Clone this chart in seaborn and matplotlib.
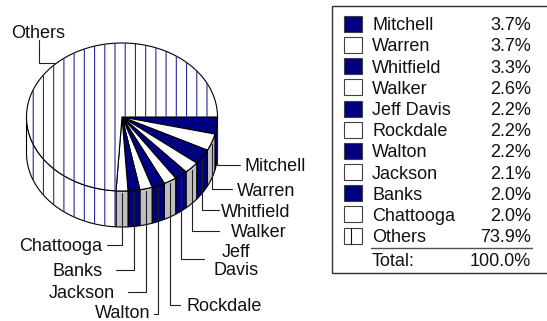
import numpy as np
from matplotlib import pyplot as plt
from matplotlib.patches import Polygon, Rectangle
import seaborn as sns

counties = ["Mitchell", "Warren", "Whitfield", "Walker", "Jeff Davis", "Rockdale",
            "Walton", "Jackson", "Banks", "Chattooga", "Others"]
shares = [3.7, 3.7, 3.3, 2.6, 2.2, 2.2, 2.2, 2.1, 2.0, 2.0, 73.9]
share_labels = ["3.7%", "3.7%", "3.3%", "2.6%", "2.2%", "2.2%", "2.2%", "2.1%", "2.0%", "2.0%", "73.9%"]
total_label = "100.0%"

# label text, elbow y, end x, text x, text y, alignment
callouts = [
    ("Mitchell", 165, 240, 245, 166.5, "left"),
    ("Warren", 189, 232, 237, 191.5, "left"),
    ("Whitfield", 210, 219, 221, 212.5, "left"),
    ("Walker", 231, 219, 231, 232.5, "left"),
    ("Jeff\nDavis", 259, 204, 236, 261.5, "center"),
    ("Rockdale", 305, 180, 187, 306.5, "left"),
    ("Walton", 314, 154, 150, 313.5, "right"),
    ("Jackson", 292, 128, 115, 293.5, "right"),
    ("Banks", 270, 116, 103, 271.5, "right"),
    ("Chattooga", 245, 107, 102, 246.5, "right"),
]

NAVY = "#000080"
GREY = "#c0c0c0"
STRIPE = "#2a2a9c"
FONT = 13

sns.set_style("white")
plt.rcParams["font.family"] = ["Liberation Sans", "DejaVu Sans"]

cx, cy, rx, ry, depth = 122, 117, 95.5, 74, 36

fig = plt.figure(figsize=(5.47, 3.21), dpi=100)
ax = fig.add_axes([0, 0, 1, 1])
ax.set_xlim(0, 547)
ax.set_ylim(321, 0)
ax.axis("off")


def rim(a, b, dy=0):
    t = np.radians(np.linspace(a, b, max(int(abs(b - a)) * 2, 2) + 1))
    return np.column_stack([cx + rx * np.cos(t), cy + dy + ry * np.sin(t)])


def add_stripes(patch):
    # vertical hatch of the Others slice, clipped to its shape
    xs = 115 + 10.22 * np.arange(-9, 10)
    for x in xs:
        line, = ax.plot([x, x], [0, 321], color=STRIPE, lw=0.8, snap=False, zorder=patch.get_zorder() + 0.1)
        line.set_clip_path(patch)


edges = np.concatenate([[0], np.cumsum(shares)]) * 3.6
edges[-1] = 360
for i, name in enumerate(counties):
    a, b = edges[i], edges[i + 1]
    others = name == "Others"
    # side wall, only the front half of the disc shows it
    w0, w1 = max(a, 0), min(b, 180)
    if w1 > w0:
        top = rim(w0, w1)
        wall = Polygon(np.vstack([top, rim(w1, w0, depth)]), closed=True, zorder=2,
                       fc="white" if others else (NAVY if i % 2 == 0 else GREY),
                       ec="black", lw=0.8)
        ax.add_patch(wall)
        if others:
            add_stripes(wall)
    face = Polygon(np.vstack([[cx, cy], rim(a, b)]), closed=True, zorder=3,
                   fc=NAVY if (i % 2 == 0 and not others) else "white", ec="black", lw=0.8)
    ax.add_patch(face)
    if others:
        add_stripes(face)

# leader lines start on the rim and run down over the wall
for i, (text, elbow, end, tx, ty, ha) in enumerate(callouts):
    mid = np.radians((edges[i] + edges[i + 1]) / 2)
    x0 = cx + rx * np.cos(mid)
    y0 = cy + ry * np.sin(mid) + 2
    ax.plot([x0, x0, end], [y0, elbow, elbow], color="#202020", lw=0.8, zorder=2.5)
    ax.text(tx, ty, text, ha=ha, va="center", fontsize=FONT, color="#111111", linespacing=1.1)
ax.plot([39, 39, 55], [40, 63, 63], color="#202020", lw=0.8, zorder=5)
ax.text(38.5, 33.5, "Others", ha="center", va="center", fontsize=FONT, color="#111111")

# legend table
ax.add_patch(Rectangle((332, 6), 230, 267, fc="white", ec="#303030", lw=1.0, zorder=1))
row_y = 23.7 + 21.2 * np.arange(len(counties))
for i, name in enumerate(counties):
    y = row_y[i]
    others = name == "Others"
    box = Rectangle((344, y - 8), 17.5, 16, zorder=3, ec="#404040", lw=0.8,
                    fc=NAVY if (i % 2 == 0 and not others) else "white")
    ax.add_patch(box)
    if others:
        ax.plot([350.5, 350.5], [y - 8, y + 8], color=NAVY, lw=0.8, zorder=4)
    ax.text(372, y + 6.5, name, ha="left", va="baseline", fontsize=FONT, color="#111111")
    ax.text(531, y + 6.5, share_labels[i], ha="right", va="baseline", fontsize=FONT, color="#111111")
ax.plot([371, 532], [247.7, 247.7], color="#505050", lw=1.0)
ax.text(372, 265.5, "Total:", ha="left", va="baseline", fontsize=FONT, color="#111111")
ax.text(531, 265.5, total_label, ha="right", va="baseline", fontsize=FONT, color="#111111")

fig.savefig("out.png", dpi=100)
